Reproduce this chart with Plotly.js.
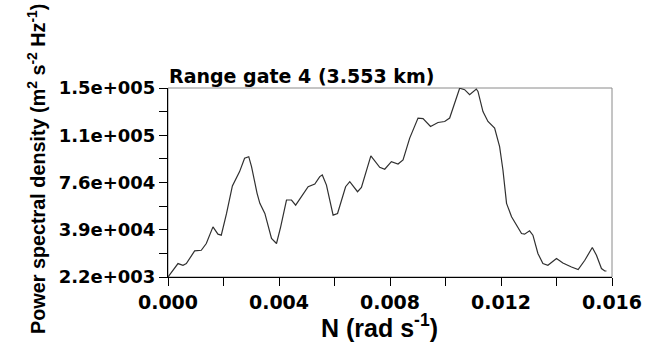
<!DOCTYPE html>
<html>
<head>
<meta charset="utf-8">
<script src="https://cdn.plot.ly/plotly-3.0.1.min.js"></script>
<style>
html,body{margin:0;padding:0;background:#fff;}
#chart{width:659px;height:347px;}
</style>
</head>
<body>
<div id="chart"></div>
<script>
// Frequency N (rad s^-1)
var freqN = [0.0000,0.00036,0.00054,0.00066,0.00096,0.00120,0.00138,0.00162,0.00180,0.00192,
  0.00211,0.00232,0.00258,0.00276,0.00291,0.00301,0.00321,0.00331,0.00349,0.00373,
  0.00391,0.00406,0.00427,0.00445,0.00460,0.00481,0.00505,0.00529,0.00547,0.00556,
  0.00571,0.00595,0.00611,0.00640,0.00655,0.00683,0.00697,0.00731,0.00763,0.00781,
  0.00805,0.00829,0.00847,0.00871,0.00901,0.00919,0.00946,0.00973,0.00997,0.01015,
  0.01051,0.01069,0.01087,0.01111,0.01117,0.01135,0.01153,0.01177,0.01195,0.01207,
  0.01220,0.01238,0.01274,0.01285,0.01303,0.01315,0.01333,0.01351,0.01369,0.01400,
  0.01423,0.01454,0.01478,0.01502,0.01529,0.01544,0.01562,0.01574,0.01580];
// Power spectral density (m^2 s^-2 Hz^-1)
var psd = [2200,12700,11400,12700,22600,23100,28400,41400,35700,34900,
  51900,73400,84600,95100,96300,88500,67600,59800,51900,32300,
  28400,41400,62400,62400,58400,65000,72800,74900,80700,82000,
  74100,50600,51900,72800,76700,68900,72300,96900,88000,86500,
  92400,90600,93800,110800,126500,126000,119900,123000,123800,126500,
  149800,148700,144700,149200,147300,131600,123800,118600,104200,85900,
  59800,49300,36200,35700,38300,34900,20600,12700,11400,16600,
  13200,10000,8000,15300,25300,19200,8800,6900,6900];

var xTickVals = [0,0.004,0.008,0.012,0.016];
var xTickText = ["0.000","0.004","0.008","0.012","0.016"];
var yTickVals = [2200,39150,76100,113050,150000];
var yTickText = ["2.2e+003","3.9e+004","7.6e+004","1.1e+005","1.5e+005"];

var chartTitle = "Range gate 4 (3.553 km)";
var xTitle = "N (rad s<sup>-1</sup>)";
var yTitle = "Power spectral density (m<sup>2</sup> s<sup>-2</sup> Hz<sup>-1</sup>)";

var trace = {
  x: freqN, y: psd, type: 'scatter', mode: 'lines',
  line: {color: '#303030', width: 1.2},
  hoverinfo: 'none'
};

var layout = {
  width: 659, height: 347,
  margin: {l: 168, r: 47, t: 88, b: 70},
  paper_bgcolor: '#ffffff', plot_bgcolor: '#ffffff',
  showlegend: false,
  xaxis: {
    range: [0, 0.016], tickmode: 'array', tickvals: xTickVals, ticktext: xTickText,
    ticks: 'outside', ticklen: 8, tickwidth: 1, tickcolor: '#000',
    minor: {tick0: 0, dtick: 0.002, ticks: 'outside', ticklen: 8, tickwidth: 1, tickcolor: '#000', showgrid: false},
    showline: true, linecolor: '#000', linewidth: 1, showgrid: false, zeroline: false,
    tickfont: {family: 'DejaVu Sans', size: 19, color: '#000', weight: 'bold'},
    fixedrange: true
  },
  yaxis: {
    range: [2200, 150000], tickmode: 'array', tickvals: yTickVals, ticktext: yTickText,
    ticks: 'outside', ticklen: 8, tickwidth: 1, tickcolor: '#000',
    minor: {tick0: 2200, dtick: 18475, ticks: 'outside', ticklen: 8, tickwidth: 1, tickcolor: '#000', showgrid: false},
    showline: true, linecolor: '#000', linewidth: 1, showgrid: false, zeroline: false,
    tickfont: {family: 'DejaVu Sans', size: 18, color: '#000', weight: 'bold'},
    fixedrange: true
  },
  shapes: [{type: 'rect', xref: 'paper', yref: 'paper', x0: 0, x1: 1, y0: 0, y1: 1,
    line: {color: '#8a8a8a', width: 1}, layer: 'below'}],
  annotations: [
    {text: '<b>' + chartTitle + '</b>', xref: 'paper', yref: 'paper', x: -0.003, y: 1.063,
     xanchor: 'left', yanchor: 'middle', showarrow: false,
     font: {family: 'DejaVu Sans', size: 19, color: '#000'}},
    {text: '<b>' + xTitle + '</b>', xref: 'paper', yref: 'paper', x: 0.477, y: -0.259,
     xanchor: 'center', yanchor: 'middle', showarrow: false,
     font: {family: 'Liberation Sans', size: 25, color: '#000'}},
    {text: '<b>' + yTitle + '</b>', xref: 'paper', yref: 'paper', x: -0.295, y: 0.572,
     xanchor: 'center', yanchor: 'middle', showarrow: false, textangle: -90,
     font: {family: 'Liberation Sans', size: 19.8, color: '#000'}}
  ]
};

Plotly.newPlot('chart', [trace], layout, {displayModeBar: false, staticPlot: true});
</script>
</body>
</html>
